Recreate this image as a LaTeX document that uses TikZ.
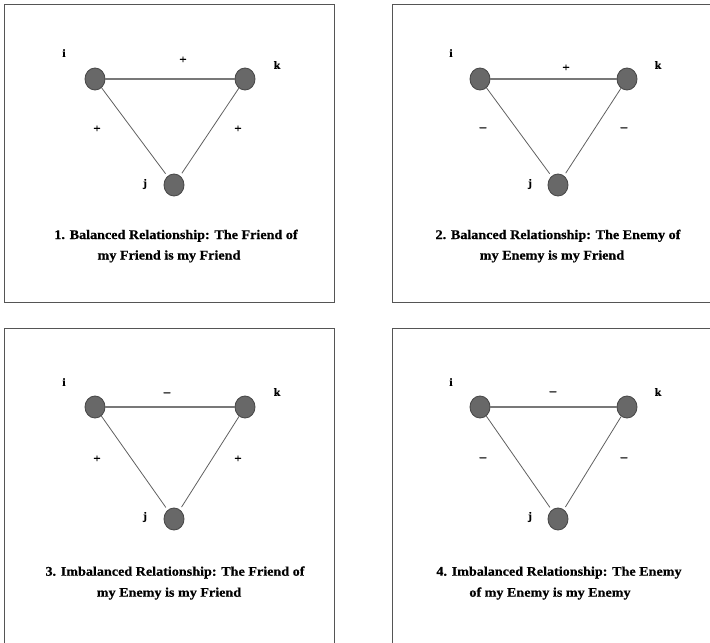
\documentclass[tikz,border=0pt]{standalone}
\usepackage{fontspec}
\setmainfont{Liberation Serif}
\newfontfamily\capfont[FakeStretch=1.07,FakeBold=0.6]{Liberation Serif}
\usetikzlibrary{shapes.geometric}

\definecolor{nodefill}{HTML}{686868}
\definecolor{nodeline}{HTML}{4a4a4a}
\definecolor{edgecol}{HTML}{606060}
\definecolor{framecol}{HTML}{555555}

\tikzset{
  actor/.style={ellipse,draw=nodeline,fill=nodefill,line width=0.9pt,
    minimum width=20pt,minimum height=22pt,inner sep=0pt},
  tie/.style={edgecol,line width=0.8pt},
  toptie/.style={edgecol!85,line width=1.4pt},
  vlabel/.style={font=\fontsize{11}{13}\capfont\bfseries,inner sep=0pt},
  sign/.style={font=\fontsize{12}{14}\capfont\bfseries,inner sep=0pt},
  caption/.style={font=\fontsize{13.2}{15}\capfont\bfseries,inner sep=0pt,anchor=base},
  panel/.style={framecol,line width=1pt}
}

\begin{document}
\begin{tikzpicture}[x=1pt,y=-1pt]

            \clip (0,0) rectangle (710,643);

            % 1. friend of my friend
            \draw[panel] (4,4) rectangle (334,302);
            \node[actor] (i1) at (95,79) {};
            \node[actor] (k1) at (245,79) {};
            \node[actor] (j1) at (174,185) {};
            \node[vlabel] (li1) at (64,53) {i};
            \node[vlabel] (lk1) at (277,65) {k};
            \node[vlabel] (lj1) at (145,184) {j};
            \draw[toptie] (i1) -- (k1);
            \draw[tie,shorten >=3pt] (i1) -- (j1);
            \draw[tie,shorten >=3pt] (k1) -- (j1);
            \node[sign] (sik1) at (183,60) {+};
            \node[sign] (sij1) at (97,129) {+};
            \node[sign] (skj1) at (238,129) {+};
            \node[caption] (ca1) at (176,239) {1. Balanced Relationship: The Friend of};
            \node[caption] (cb1) at (169,259.5) {my Friend is my Friend};

            % 2. enemy of my enemy
            \draw[panel] (392,4) rectangle (720,302);
            \node[actor] (i2) at (480,79) {};
            \node[actor] (k2) at (627,79) {};
            \node[actor] (j2) at (558,185) {};
            \node[vlabel] (li2) at (451,53) {i};
            \node[vlabel] (lk2) at (658,65) {k};
            \node[vlabel] (lj2) at (530,184) {j};
            \draw[toptie] (i2) -- (k2);
            \draw[tie,shorten >=3pt] (i2) -- (j2);
            \draw[tie,shorten >=3pt] (k2) -- (j2);
            \node[sign] (sik2) at (566,68) {+};
            \node[sign] (sij2) at (483,129) {–};
            \node[sign] (skj2) at (624,129) {–};
            \node[caption] (ca2) at (558,239) {2. Balanced Relationship: The Enemy of};
            \node[caption] (cb2) at (552,259.5) {my Enemy is my Friend};

            % 3. friend of my enemy
            \draw[panel] (4,328) rectangle (334,660);
            \node[actor] (i3) at (95,407) {};
            \node[actor] (k3) at (245,407) {};
            \node[actor] (j3) at (174,519) {};
            \node[vlabel] (li3) at (64,382) {i};
            \node[vlabel] (lk3) at (277,392) {k};
            \node[vlabel] (lj3) at (145,517) {j};
            \draw[toptie] (i3) -- (k3);
            \draw[tie,shorten >=3pt] (i3) -- (j3);
            \draw[tie,shorten >=3pt] (k3) -- (j3);
            \node[sign] (sik3) at (167,394) {–};
            \node[sign] (sij3) at (97,459) {+};
            \node[sign] (skj3) at (238,459) {+};
            \node[caption] (ca3) at (175,575.7) {3. Imbalanced Relationship: The Friend of};
            \node[caption] (cb3) at (169,596.7) {my Enemy is my Friend};

            % 4. enemy of my enemy, imbalanced
            \draw[panel] (392,328) rectangle (720,660);
            \node[actor] (i4) at (480,407) {};
            \node[actor] (k4) at (627,407) {};
            \node[actor] (j4) at (558,519) {};
            \node[vlabel] (li4) at (451,382) {i};
            \node[vlabel] (lk4) at (658,392) {k};
            \node[vlabel] (lj4) at (530,517) {j};
            \draw[toptie] (i4) -- (k4);
            \draw[tie,shorten >=3pt] (i4) -- (j4);
            \draw[tie,shorten >=3pt] (k4) -- (j4);
            \node[sign] (sik4) at (553,393) {–};
            \node[sign] (sij4) at (483,459) {–};
            \node[sign] (skj4) at (624,459) {–};
            \node[caption] (ca4) at (559,575.7) {4. Imbalanced Relationship: The Enemy};
            \node[caption] (cb4) at (550,596.7) {of my Enemy is my Enemy};

        \end{tikzpicture}
\end{document}
